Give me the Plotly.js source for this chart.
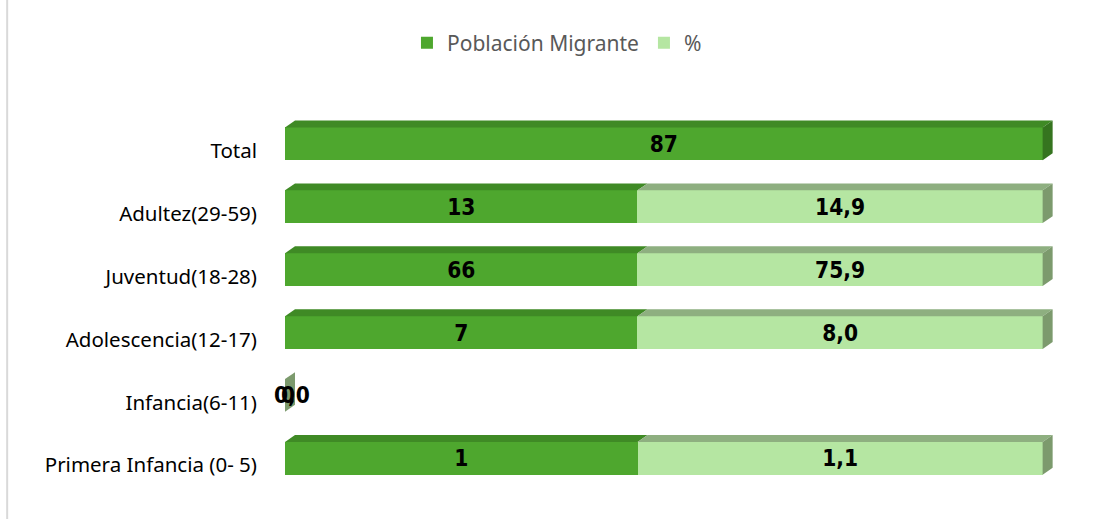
<!DOCTYPE html>
<html>
<head>
<meta charset="utf-8">
<script src="https://cdn.plot.ly/plotly-3.0.1.min.js"></script>
<style>
html,body{margin:0;padding:0;background:#fff;}
#chart{width:1094px;height:519px;}
</style>
</head>
<body>
<div id="chart"></div>
<script>
// Data (bottom to top)
var categories = ["Primera Infancia (0- 5)", "Infancia(6-11)", "Adolescencia(12-17)", "Juventud(18-28)", "Adultez(29-59)", "Total"];
var poblacion = [1, 0, 7, 66, 13, 87];
// share of the total (%), shown with one decimal
var porcentaje = [1.149, 0.0, 8.046, 75.862, 14.943, null];
var seriesNames = ["Población Migrante", "%"];

var fmtPop = function(v){ return v === null ? "" : String(v); };
var fmtPct = function(v){ return v === null ? "" : v.toFixed(1).replace(".", ","); };

var pos = categories.map(function(_, i){ return i; });
var W = 0.52, OFF = -0.15;        // bar thickness & offset (category units)
var DX = 1.32, DY = 0.11;          // 3D depth
var cols = {
  dark:  {front:"#4ea72e", top:"#3f8a25", side:"#35741f"},
  light: {front:"#b5e6a2", top:"#8eaf80", side:"#7c9a6d"}
};

var valFont = {family:"DejaVu Sans Condensed, DejaVu Sans, sans-serif", size:22.5, color:"#000", weight:"bold", stretch:"condensed"};

var traces = [
  {type:"bar", orientation:"h", name:seriesNames[0], y:pos, x:poblacion,
   width:W, offset:OFF, marker:{color:cols.dark.front, line:{width:0}},
   text:poblacion.map(fmtPop), textposition:"inside", insidetextanchor:"middle",
   textangle:0, constraintext:"none", textfont:valFont,
   hoverinfo:"skip", cliponaxis:false},
  {type:"bar", orientation:"h", name:seriesNames[1], y:pos, x:porcentaje.map(function(v){return v===null?0:v;}),
   width:W, offset:OFF, marker:{color:cols.light.front, line:{width:0}},
   text:porcentaje.map(fmtPct), textposition:"inside", insidetextanchor:"middle",
   textangle:0, constraintext:"none", textfont:valFont,
   hoverinfo:"skip", cliponaxis:false}
];

// 3D faces derived from the data
var shapes = [];
var annotations = [];
pos.forEach(function(p, i){
  var a = poblacion[i] || 0, b = porcentaje[i] || 0, s = a + b;
  var xa = s > 0 ? a / s * 100 : 0;
  var xe = s > 0 ? 100 : 0;
  var yb = p + OFF, yt = p + OFF + W;
  var segs = [[0, xa, cols.dark], [xa, xe, cols.light]];
  segs.forEach(function(sg){
    if (sg[1] - sg[0] <= 0) return;
    shapes.push({type:"path", xref:"x", yref:"y", layer:"above", line:{width:0},
      fillcolor:sg[2].top,
      path:"M"+sg[0]+","+yt+" L"+sg[1]+","+yt+" L"+(sg[1]+DX)+","+(yt+DY)+" L"+(sg[0]+DX)+","+(yt+DY)+" Z"});
  });
  var lastCol = (b > 0 || s === 0) ? cols.light : cols.dark;
  shapes.push({type:"path", xref:"x", yref:"y", layer:"above", line:{width:0},
    fillcolor:lastCol.side,
    path:"M"+xe+","+yb+" L"+xe+","+yt+" L"+(xe+DX)+","+(yt+DY)+" L"+(xe+DX)+","+(yb+DY)+" Z"});
  // labels for zero-width segments
  if (a === 0 && poblacion[i] !== null) {
    annotations.push({x:0, y:p + OFF + W/2, xref:"x", yref:"y", text:fmtPop(poblacion[i]),
      showarrow:false, xanchor:"center", xshift:3, font:valFont});
  }
  if (b === 0 && porcentaje[i] !== null) {
    annotations.push({x:xa, y:p + OFF + W/2, xref:"x", yref:"y", text:fmtPct(porcentaje[i]),
      showarrow:false, xanchor:"center", xshift:7, font:valFont});
  }
});

// left border line of the chart frame
shapes.push({type:"line", xref:"paper", yref:"paper", x0:-0.3613, x1:-0.3613, y0:-0.2, y1:1.5,
  line:{color:"#d9d9d9", width:2}});

var layout = {
  width:1094, height:519,
  margin:{l:285, r:40, t:113, b:16},
  paper_bgcolor:"#fff", plot_bgcolor:"#fff",
  barmode:"stack", barnorm:"percent",
  showlegend:true,
  legend:{orientation:"h", xref:"container", yref:"container", x:0.372, xanchor:"left",
    y:0.917, yanchor:"middle", font:{family:"Noto Sans, sans-serif", size:21, color:"#595959"},
    traceorder:"normal", itemwidth:30},
  xaxis:{range:[0, 101.5], visible:false, fixedrange:true},
  yaxis:{range:[-0.6, 5.6], tickmode:"array", tickvals:pos, ticktext:categories,
    showgrid:false, zeroline:false, showline:false, ticks:"", ticklabelstandoff:27,
    tickfont:{family:"Noto Sans, sans-serif", size:20.5, color:"#000"}, fixedrange:true},
  shapes:shapes,
  annotations:annotations
};

Plotly.newPlot("chart", traces, layout, {displayModeBar:false, staticPlot:true});
</script>
</body>
</html>
